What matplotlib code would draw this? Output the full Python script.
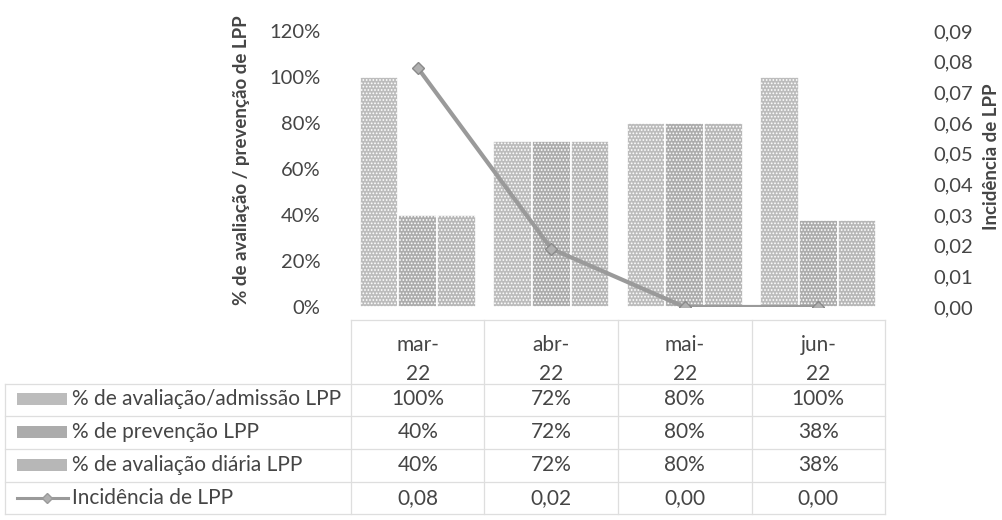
import matplotlib.pyplot as plt
import numpy as np
from matplotlib.transforms import blended_transform_factory
from matplotlib.lines import Line2D
from matplotlib.patches import Rectangle

# Data
months = ["mar-\n22", "abr-\n22", "mai-\n22", "jun-\n22"]
aval_admissao = [1.00, 0.72, 0.80, 1.00]
prevencao = [0.40, 0.72, 0.80, 0.38]
aval_diaria = [0.40, 0.72, 0.80, 0.38]
incidencia = [0.078, 0.019, 0.0, 0.0]
incidencia_txt = [0.08, 0.02, 0.00, 0.00]
series_names = ["% de avaliação/admissão LPP", "% de prevenção LPP",
                "% de avaliação diária LPP", "Incidência de LPP"]

plt.rcParams['font.family'] = ['Lato', 'DejaVu Sans']
plt.rcParams['hatch.color'] = '#dcdcdc'
plt.rcParams['hatch.linewidth'] = 0.8
txt_col = '#454545'
grid_col = '#dedede'
bar_cols = ['#bcbcbc', '#acacac', '#b7b7b7']
line_col = '#9a9a9a'

W, H = 1003, 520
fig = plt.figure(figsize=(W / 100, H / 100), dpi=100)
ax = fig.add_axes([351 / W, 1 - 307 / H, (885 - 351) / W, (307 - 31) / H])
ax2 = ax.twinx()

x = np.arange(len(months))
bw = 0.29
for i, vals in enumerate([aval_admissao, prevencao, aval_diaria]):
    ax.bar(x + (i - 1) * bw, vals, bw, color=bar_cols[i], edgecolor='white',
           linewidth=1.2, hatch='.....', zorder=2)

ax2.plot(x, incidencia, color=line_col, lw=3, marker='D', ms=6,
         markerfacecolor='#b0b0b0', markeredgecolor='#8a8a8a', zorder=5)

ax.set_xlim(-0.5, 3.5)
ax.set_ylim(0, 1.2)
ax2.set_ylim(0, 0.09)
ax.set_yticks(np.arange(0, 1.21, 0.2))
ax.set_yticklabels([f"{int(round(v * 100))}%" for v in np.arange(0, 1.21, 0.2)])
ax2.set_yticks(np.arange(0, 0.091, 0.01))
ax2.set_yticklabels([f"{v:.2f}".replace('.', ',') for v in np.arange(0, 0.091, 0.01)])
ax.set_xticks([])
for a in (ax, ax2):
    for s in a.spines.values():
        s.set_visible(False)
    a.tick_params(length=0, labelsize=14.5, labelcolor=txt_col)
ax.tick_params(axis='y', pad=22)
ax2.tick_params(axis='y', pad=35)

fig.text(242 / W, 1 - 160 / H, "% de avaliação / prevenção de LPP", rotation=90,
         ha='center', va='center', fontsize=13.5, fontweight='bold', color=txt_col)
fig.text(992 / W, 1 - 157 / H, "Incidência de LPP", rotation=90,
         ha='center', va='center', fontsize=13.5, fontweight='bold', color=txt_col)

# data table below the plot
tr = blended_transform_factory(ax.transData, fig.transFigure)
fy = lambda p: 1 - p / H
rows_y = [320, 384, 416, 449, 482, 514]
for k, yp in enumerate(rows_y):
    if k == 0:
        fig.add_artist(Line2D([-0.5, 3.5], [fy(yp)] * 2, transform=tr, color=grid_col, lw=0.9))
    else:
        fig.add_artist(Line2D([5 / W, 885 / W], [fy(yp)] * 2, transform=fig.transFigure,
                              color=grid_col, lw=0.9))
for xb in np.arange(-0.5, 3.6, 1.0):
    fig.add_artist(Line2D([xb, xb], [fy(320), fy(514)], transform=tr, color=grid_col, lw=0.9))
fig.add_artist(Line2D([5 / W, 5 / W], [fy(384), fy(514)], transform=fig.transFigure,
                      color=grid_col, lw=0.9))

fs = 15
for i, m in enumerate(months):
    top, bot = m.split("\n")
    fig.text(i, fy(345), top, transform=tr, ha='center', va='center', fontsize=fs, color=txt_col)
    fig.text(i, fy(374), bot, transform=tr, ha='center', va='center', fontsize=fs, color=txt_col)

table_vals = [
    [f"{int(round(v * 100))}%" for v in aval_admissao],
    [f"{int(round(v * 100))}%" for v in prevencao],
    [f"{int(round(v * 100))}%" for v in aval_diaria],
    [f"{v:.2f}".replace('.', ',') for v in incidencia_txt],
]
centers = [399, 432, 465, 498]
for r, (name, vals) in enumerate(zip(series_names, table_vals)):
    yc = fy(centers[r])
    if r < 3:
        fig.add_artist(Rectangle((17 / W, yc - 6 / H), 50 / W, 12 / H, transform=fig.transFigure,
                                 facecolor=bar_cols[r], edgecolor='none', hatch='.....'))
    else:
        fig.add_artist(Line2D([17 / W, 68 / W], [yc, yc], transform=fig.transFigure,
                              color=line_col, lw=2.2))
        fig.add_artist(Line2D([47 / W], [yc], transform=fig.transFigure, color=line_col,
                              marker='D', ms=5, markerfacecolor='#b0b0b0'))
    fig.text(72 / W, yc, name, ha='left', va='center', fontsize=fs, color=txt_col)
    for i, v in enumerate(vals):
        fig.text(i, yc, v, transform=tr, ha='center', va='center', fontsize=fs, color=txt_col)

fig.savefig("out.png", dpi=100)
